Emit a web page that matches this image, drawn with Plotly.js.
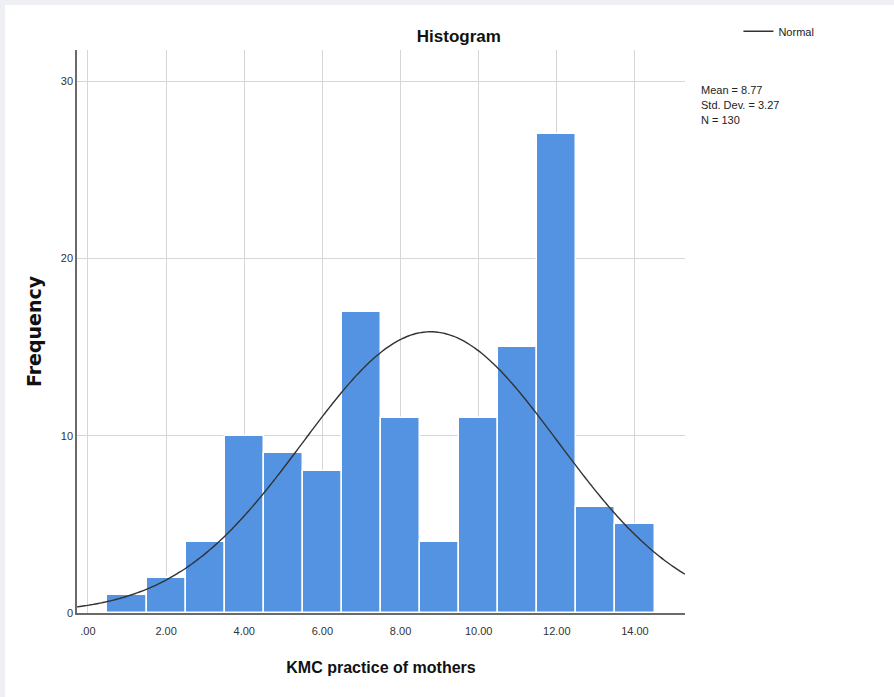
<!DOCTYPE html>
<html>
<head>
<meta charset="utf-8">
<script src="https://cdn.plot.ly/plotly-3.0.1.min.js"></script>
<style>
  html, body { margin: 0; padding: 0; background: #eef0f3; }
  #chart { position: absolute; left: 5px; top: 5px; width: 889px; height: 692px; background: #ffffff; }
</style>
</head>
<body>
<div id="chart"></div>
<script>
// Histogram bins (bin centres, width 1) and frequencies
const binCenters = [1, 2, 3, 4, 5, 6, 7, 8, 9, 10, 11, 12, 13, 14];
const frequencies = [1, 2, 4, 10, 9, 8, 17, 11, 4, 11, 15, 27, 6, 5];

// Summary statistics shown on the chart
const statMean = 8.77;
const statSD = 3.27;
const statN = 130;
const binWidth = 1;

// Tick labels
const xTickVals = [0, 2, 4, 6, 8, 10, 12, 14];
const xTickText = ['.00', '2.00', '4.00', '6.00', '8.00', '10.00', '12.00', '14.00'];
const yTickVals = [0, 10, 20, 30];
const yTickText = ['0', '10', '20', '30'];

// Stats box lines
const statLines = [
  'Mean = ' + statMean.toFixed(2),
  'Std. Dev. = ' + statSD.toFixed(2),
  'N = ' + statN
];

// Normal curve implied by mean / SD / N
const xMin = -0.28, xMax = 15.28;
const curveX = [], curveY = [];
for (let i = 0; i <= 200; i++) {
  const x = xMin + (xMax - xMin) * i / 200;
  const z = (x - statMean) / statSD;
  curveX.push(x);
  curveY.push(statN * binWidth * Math.exp(-0.5 * z * z) / (statSD * Math.sqrt(2 * Math.PI)));
}

const narrow = '"Liberation Sans Narrow", "Arial Narrow", "Liberation Sans", Arial, sans-serif';

const traces = [
  {
    type: 'bar',
    x: binCenters,
    y: frequencies,
    width: binWidth,
    marker: { color: '#5393e2', line: { color: '#ffffff', width: 1.5 } },
    showlegend: false,
    hoverinfo: 'x+y'
  },
  {
    type: 'scatter',
    mode: 'lines',
    x: curveX,
    y: curveY,
    name: 'Normal',
    line: { color: '#333333', width: 1.4, shape: 'spline' },
    showlegend: true
  }
];

const statAnnotations = statLines.map((t, i) => ({
  xref: 'paper', yref: 'paper',
  x: 1.023, y: (523 - 15 * i) / 563,
  xanchor: 'left', yanchor: 'middle',
  align: 'left',
  showarrow: false,
  text: t,
  font: { family: narrow, size: 11, color: '#222222' }
}));

const layout = {
  width: 889,
  height: 692,
  margin: { l: 72, r: 209, t: 45, b: 84 },
  paper_bgcolor: '#ffffff',
  plot_bgcolor: '#ffffff',
  bargap: 0,
  title: {
    text: 'Histogram',
    font: { family: narrow, size: 17, color: '#111111', weight: 'bold' },
    xref: 'paper', x: 0.628, xanchor: 'center',
    yref: 'container', y: 0.955, yanchor: 'middle'
  },
  xaxis: {
    range: [xMin, xMax],
    tickvals: xTickVals,
    ticktext: xTickText,
    showgrid: true,
    gridcolor: '#d6d6d6',
    gridwidth: 1,
    zeroline: false,
    showline: true,
    linecolor: '#6a6a6a',
    linewidth: 1.5,
    ticks: '',
    ticklabelstandoff: 7,
    automargin: false,
    tickfont: { family: narrow, size: 11, color: '#333333' },
    title: {
      text: 'KMC practice of mothers',
      font: { family: narrow, size: 16, color: '#111111', weight: 'bold' },
      standoff: 26
    }
  },
  yaxis: {
    range: [0, 31.75],
    tickvals: yTickVals,
    ticktext: yTickText,
    showgrid: true,
    gridcolor: '#d6d6d6',
    gridwidth: 1,
    zeroline: false,
    showline: true,
    linecolor: '#6a6a6a',
    linewidth: 1.5,
    ticks: '',
    automargin: false,
    tickfont: { family: narrow, size: 11, color: '#333333' },
    title: {
      text: 'Frequency',
      font: { family: '"DejaVu Sans", sans-serif', size: 19, color: '#111111', weight: 'bold' },
      standoff: 14
    }
  },
  legend: {
    xref: 'container', yref: 'container',
    x: 0.825, xanchor: 'left',
    y: 0.962, yanchor: 'middle',
    bgcolor: 'rgba(0,0,0,0)',
    font: { family: narrow, size: 11, color: '#222222' },
    itemwidth: 30,
    tracegroupgap: 0
  },
  annotations: statAnnotations
};

Plotly.newPlot('chart', traces, layout, { displayModeBar: false, responsive: false });
</script>
</body>
</html>
